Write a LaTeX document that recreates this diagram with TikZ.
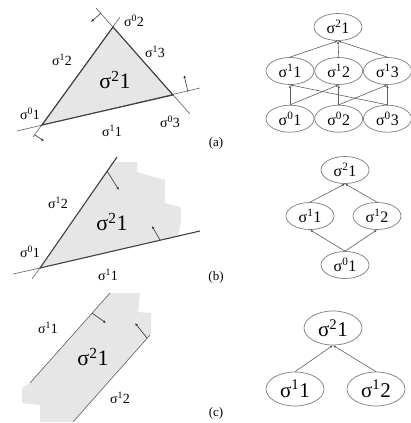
\documentclass[tikz,border=0pt]{standalone}
\usepackage{fontspec}
\setmainfont{Liberation Serif}
\usepackage{tikz}
\usetikzlibrary{shapes.geometric,arrows.meta,positioning}
\definecolor{inkgray}{RGB}{95,95,95}
\definecolor{cellgray}{RGB}{125,125,125}
\definecolor{fillgray}{RGB}{230,230,230}
\newcommand{\sig}[2]{σ\textsuperscript{#1}#2}
\tikzset{
  cell/.style={ellipse,draw=cellgray,line width=0.7pt,inner sep=0pt,
               minimum width=48pt,minimum height=27pt,font=\fontsize{16}{18}\selectfont},
  bigcell/.style={cell,minimum width=58pt,minimum height=34pt,font=\fontsize{21}{23}\selectfont},
  up/.style={-{Latex[length=3pt,width=2.4pt]},draw=inkgray,line width=0.6pt},
  hplane/.style={draw=inkgray,line width=0.6pt},
  face/.style={draw=black!75,line width=1.1pt},
  nrm/.style={-{Latex[length=3pt,width=2.6pt]},draw=black!80,line width=0.6pt},
  lab/.style={inner sep=0pt,font=\fontsize{14}{16}\selectfont},
  biglab/.style={inner sep=0pt,font=\fontsize{22}{24}\selectfont},
  tag/.style={inner sep=0pt,font=\fontsize{13}{15}\selectfont},
  region/.style={fill=fillgray},
}
\begin{document}
\begin{tikzpicture}[x=1pt,y=-1pt]
  \useasboundingbox (0,0) rectangle (411,423);
  % (a) three half planes
  \coordinate (av1) at (42,125);
  \coordinate (av2) at (113,27);
  \coordinate (av3) at (173,95);
  \fill[region] (av1) -- (av2) -- (av3) -- cycle;
  \draw[hplane] (17,131) -- (200,88);
  \draw[hplane] (33,137) -- (120,17);
  \draw[hplane] (96,8) -- (190,114);
  \draw[face] (av1) -- (av2) -- (av3) -- cycle;
  \draw[nrm] (101,13) -- (91,22);
  \draw[nrm] (188,92) -- (184,75);
  \draw[nrm] (35,135) -- (44,141);
  \node[lab] (la02) at (134,21) {\sig{0}{2}};
  \node[lab] (la12) at (62,60) {\sig{1}{2}};
  \node[lab] (la13) at (155,52) {\sig{1}{3}};
  \node[biglab] (la21) at (115,80) {\sig{2}{1}};
  \node[lab] (la01) at (30,114) {\sig{0}{1}};
  \node[lab] (la11) at (112,131) {\sig{1}{1}};
  \node[lab] (la03) at (170,122) {\sig{0}{3}};
  \node[tag] (tga) at (216,143) {(a)};
  % (a) incidence graph
  \node[cell] (t21) at (338,27) {\sig{2}{1}};
  \node[cell] (e11) at (290,71) {\sig{1}{1}};
  \node[cell,right=0pt of e11] (e12) {\sig{1}{2}};
  \node[cell,right=0pt of e12] (e13) {\sig{1}{3}};
  \node[cell,below=20pt of e11] (v01) {\sig{0}{1}};
  \node[cell,right=0pt of v01] (v02) {\sig{0}{2}};
  \node[cell,right=0pt of v02] (v03) {\sig{0}{3}};
  \draw[up] (v01.north) -- (e11.south);
  \draw[up] (v03.north) -- (e11.south);
  \draw[up] (v01.north) -- (e12.south);
  \draw[up] (v02.north) -- (e12.south);
  \draw[up] (v02.north) -- (e13.south);
  \draw[up] (v03.north) -- (e13.south);
  \draw[up] (e11.north) -- (t21.south);
  \draw[up] (e12.north) -- (t21.south);
  \draw[up] (e13.north) -- (t21.south);

  % (b) two half planes
  \coordinate (bv1) at (40,268);
  \fill[region] (bv1) -- (113,162) -- (137,162) -- (137,172) -- (165,180)
    -- (165,203) -- (181,207) -- (181,222) -- (178,236) -- cycle;
  \draw[hplane] (13,274) -- (bv1);
  \draw[hplane] (32,279) -- (bv1);
  \draw[face] (bv1) -- (117,157);
  \draw[face] (bv1) -- (200,231);
  \draw[nrm] (107,171) -- (119,190);
  \draw[nrm] (160,240) -- (152,226);
  \node[lab] (lb12) at (58,203) {\sig{1}{2}};
  \node[biglab] (lb21) at (112,222) {\sig{2}{1}};
  \node[lab] (lb01) at (30,252) {\sig{0}{1}};
  \node[lab] (lb11) at (108,275) {\sig{1}{1}};
  \node[tag] (tgb) at (216,277) {(b)};
  % (b) incidence graph
  \node[cell] (b21) at (345,170) {\sig{2}{1}};
  \node[cell] (b11) at (310,216) {\sig{1}{1}};
  \node[cell] (b12) at (377,216) {\sig{1}{2}};
  \node[cell] (b01) at (345,265) {\sig{0}{1}};
  \draw[up] (b01.north) -- (b11.south);
  \draw[up] (b01.north) -- (b12.south);
  \draw[up] (b11.north) -- (b21.south);
  \draw[up] (b12.north) -- (b21.south);

  % (c) a strip
  \fill[region] (110,293) -- (140,293) -- (138,312) -- (151,313) -- (151,334)
    -- (73,422) -- (40,422) -- (40,405) -- (22,403) -- (22,388) -- (30,383) -- cycle;
  \draw[hplane] (30,383) -- (110,293);
  \draw[hplane] (73,422) -- (150,335);
  \draw[nrm] (92,313) -- (106,323);
  \draw[nrm] (147,338) -- (135,323);
  \node[lab] (lc11) at (48,328) {\sig{1}{1}};
  \node[biglab] (lc21) at (93,357) {\sig{2}{1}};
  \node[lab] (lc12) at (120,398) {\sig{1}{2}};
  \node[tag] (tgc) at (216,413) {(c)};
  % (c) incidence graph
  \node[bigcell] (c21) at (333,328) {\sig{2}{1}};
  \node[bigcell] (c11) at (295,389) {\sig{1}{1}};
  \node[bigcell] (c12) at (376,389) {\sig{1}{2}};
  \draw[up] (c11.north) -- (c21.south);
  \draw[up] (c12.north) -- (c21.south);
\end{tikzpicture}
\end{document}
